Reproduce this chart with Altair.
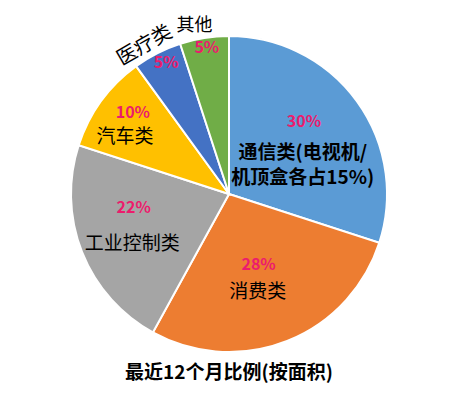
import altair as alt
import pandas as pd

categories = ["通信类", "消费类", "工业控制类", "汽车类", "医疗类", "其他"]
values = [30, 28, 22, 10, 5, 5]
pct_labels = ["30%", "28%", "22%", "10%", "5%", "5%"]
name_labels = ["通信类(电视机/\n机顶盒各占15%)", "消费类", "工业控制类", "汽车类", "医疗类", "其他"]
colors = ["#5B9BD5", "#ED7D31", "#A5A5A5", "#FFC000", "#4472C4", "#70AD47"]
title_text = "最近12个月比例(按面积)"

df = pd.DataFrame({
    "idx": list(range(len(categories))),
    "cat": categories,
    "value": values,
    "pct": pct_labels,
    "name": name_labels,
})

FONT = "Noto Sans CJK SC"
PCT_COLOR = "#EC1C6C"
theta_scale = alt.Scale(domain=[0, 100])

arc = alt.Chart(df).mark_arc(outerRadius=158, stroke="white", strokeWidth=2).encode(
    theta=alt.Theta("value:Q", stack=True, scale=theta_scale),
    color=alt.Color("cat:N", scale=alt.Scale(domain=categories, range=colors), legend=None),
    order=alt.Order("idx:Q"),
)

base = alt.Chart(df).transform_window(
    cum="sum(value)", sort=[alt.SortField("idx")], frame=[None, 0]
).transform_calculate(mid="datum.cum - datum.value / 2")

# layout: (idx, field, radius, dx, dy, fontSize, fontWeight, color, angle)
label_layout = [
    (0, "pct", 100, -6, -13, 16, "bold", PCT_COLOR, 0),
    (0, "name", 80, 9, 6, 19, "bold", "black", 0),
    (1, "pct", 75, 2, 1, 16, "bold", PCT_COLOR, 0),
    (1, "name", 100, -8, 5, 19, "normal", "black", 0),
    (2, "pct", 95, -7, -21, 16, "bold", PCT_COLOR, 0),
    (2, "name", 105, 1, 11, 19, "normal", "black", 0),
    (3, "pct", 125, 5, -8, 16, "bold", PCT_COLOR, 0),
    (3, "name", 115, -11, 11, 19, "normal", "black", 0),
    (4, "pct", 145, 3, -2, 16, "bold", PCT_COLOR, 0),
    (4, "name", 175, -8, 4, 20, "normal", "black", 330),
    (5, "pct", 148, 1, 0, 16, "bold", PCT_COLOR, 0),
    (5, "name", 169, -8, -1, 18, "normal", "black", 0),
]

layers = [arc]
for idx, field, r, dx, dy, fs, fw, col, ang in label_layout:
    mk = dict(radius=r, dx=dx, dy=dy, font=FONT, fontSize=fs, fontWeight=fw,
              color=col, lineBreak="\n", lineHeight=25, align="center", baseline="middle")
    if ang:
        mk["angle"] = ang
    layers.append(
        base.transform_filter(f"datum.idx == {idx}").mark_text(**mk).encode(
            theta=alt.Theta("mid:Q", stack=None, scale=theta_scale),
            text=alt.Text(f"{field}:N"),
        )
    )

chart = alt.layer(*layers).properties(
    width=442,
    height=340,
    padding={"top": 9, "left": 0, "right": 0, "bottom": 0},
    title=alt.TitleParams(title_text, orient="bottom", offset=0, font=FONT,
                          fontSize=19, fontWeight="bold", color="black", anchor="middle"),
).configure_view(stroke=None)

chart.save("out.html", embed_options={"renderer": "svg", "actions": False})
